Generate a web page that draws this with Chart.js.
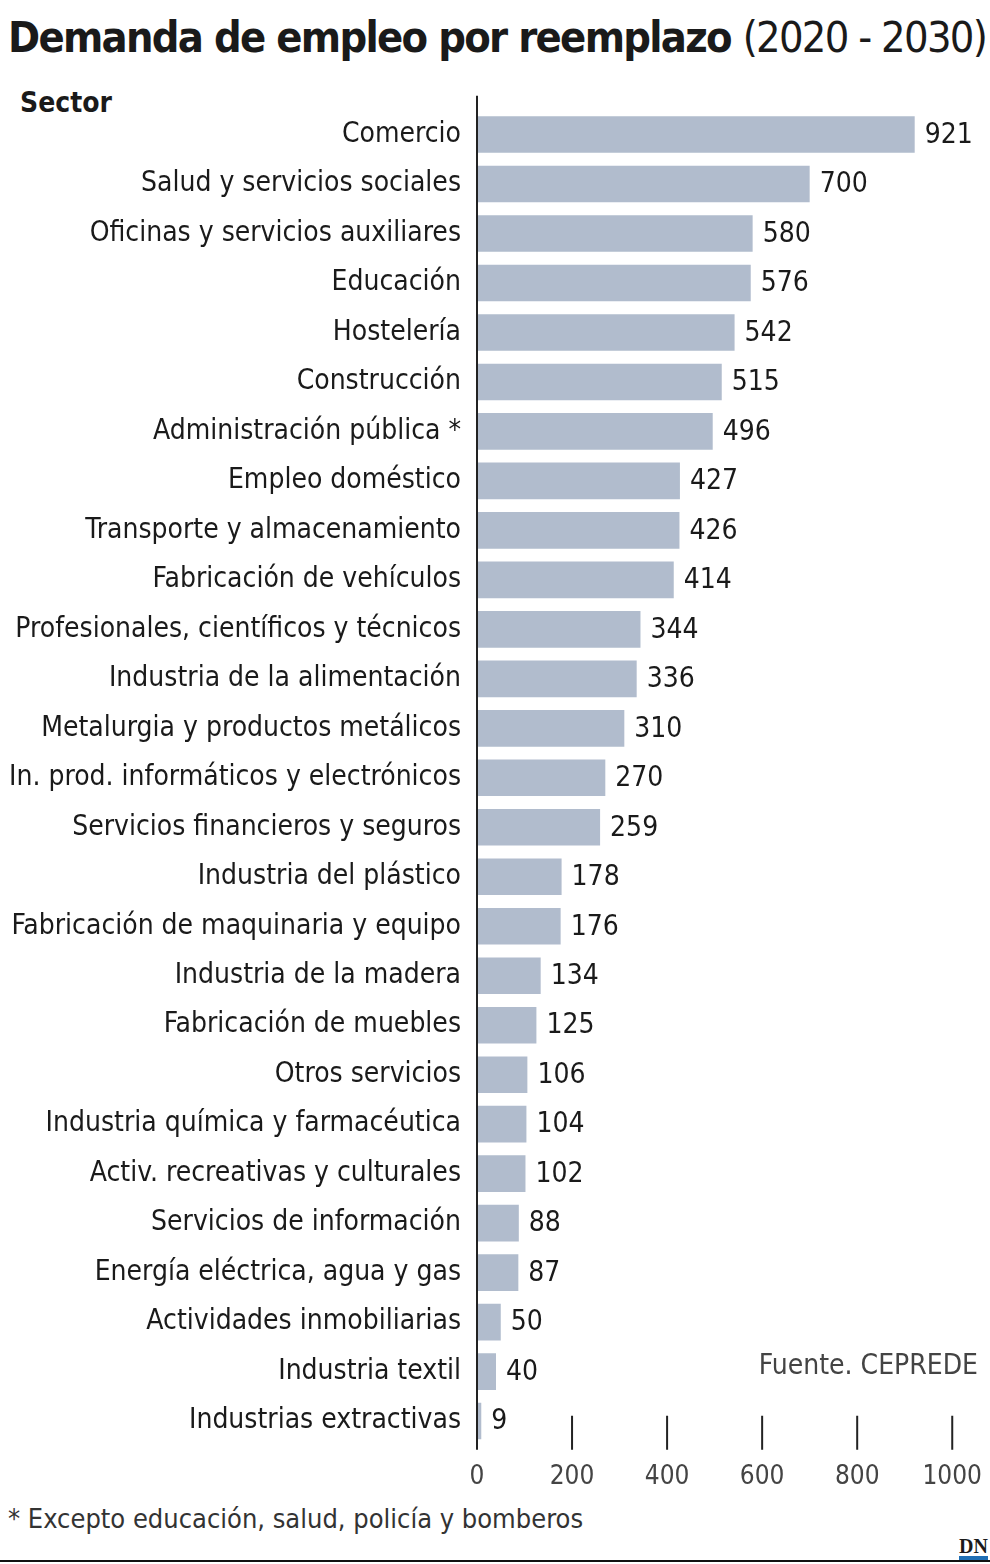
<!DOCTYPE html>
<html><head><meta charset="utf-8">
<script src="https://cdn.jsdelivr.net/npm/chart.js@4/dist/chart.umd.min.js"></script>
<style>
body{margin:0;background:#fff;width:990px;height:1564px;position:relative;overflow:hidden;font-family:"DejaVu Sans Condensed","Liberation Sans Narrow",sans-serif;color:#1a1a1a}
#title{position:absolute;left:8px;top:12px;font-size:43px;font-weight:bold;letter-spacing:-1.7px;white-space:nowrap}
#title span{font-weight:normal}
#sector{position:absolute;left:20px;top:86px;font-size:28px;font-weight:bold}
#fuente{position:absolute;right:12px;top:1348px;font-size:28px;color:#444}
#note{position:absolute;left:8px;top:1503px;font-size:27px;color:#333}
#dn{position:absolute;right:2px;top:1536px;font-family:"Liberation Serif",serif;font-weight:bold;font-size:20px;border-bottom:4px solid #1f6fb5;line-height:20px}
#line{position:absolute;left:0;right:0;top:1560px;height:2px;background:#111}
#wrap{position:absolute;left:0;top:85px;width:990px;height:1416px}
</style></head><body>
<div id="title">Demanda de empleo por reemplazo <span>(2020 - 2030)</span></div>
<div id="sector">Sector</div>
<div id="wrap"><canvas id="c"></canvas></div>
<div id="fuente">Fuente. CEPREDE</div>
<div id="note">* Excepto educación, salud, policía y bomberos</div>
<div id="dn">DN</div>
<div id="line"></div>
<script>
const sectors=["Comercio","Salud y servicios sociales","Oficinas y servicios auxiliares","Educación","Hostelería","Construcción","Administración pública *","Empleo doméstico","Transporte y almacenamiento","Fabricación de vehículos","Profesionales, científicos y técnicos","Industria de la alimentación","Metalurgia y productos metálicos","In. prod. informáticos y electrónicos","Servicios financieros y seguros","Industria del plástico","Fabricación de maquinaria y equipo","Industria de la madera","Fabricación de muebles","Otros servicios","Industria química y farmacéutica","Activ. recreativas y culturales","Servicios de información","Energía eléctrica, agua y gas","Actividades inmobiliarias","Industria textil","Industrias extractivas"];
const values=[921,700,580,576,542,515,496,427,426,414,344,336,310,270,259,178,176,134,125,106,104,102,88,87,50,40,9];
const ticks=[0,200,400,600,800,1000];
const FONT='"DejaVu Sans Condensed","Liberation Sans Narrow",sans-serif';
const deco={id:'deco',afterDatasetsDraw(ch){
 const ctx=ch.ctx,x=ch.scales.x,y=ch.scales.y,meta=ch.getDatasetMeta(0);
 ctx.save();ctx.fillStyle='#1a1a1a';ctx.font='28px '+FONT;ctx.textBaseline='middle';
 meta.data.forEach((b,i)=>{ctx.fillText(values[i],b.x+10,b.y+1);});
 ctx.strokeStyle='#222';ctx.lineWidth=2;
 ctx.beginPath();ctx.moveTo(x.left,ch.chartArea.top-14);ctx.lineTo(x.left,ch.chartArea.bottom+4);
 ticks.slice(1).forEach(t=>{const px=x.getPixelForValue(t);ctx.moveTo(px,ch.chartArea.bottom-30);ctx.lineTo(px,ch.chartArea.bottom+4);});
 ctx.stroke();ctx.restore();}};
new Chart(document.getElementById('c'),{type:'bar',
 data:{labels:sectors,datasets:[{data:values,backgroundColor:'#b1bccd',barPercentage:0.74,categoryPercentage:1}]},
 options:{indexAxis:'y',responsive:true,maintainAspectRatio:false,animation:false,
  layout:{padding:{top:17,right:19,bottom:0,left:0}},
  plugins:{legend:{display:false},tooltip:{enabled:false}},
  scales:{
   y:{grid:{display:false},border:{display:false},afterFit(s){s.width=477;},
      ticks:{color:'#1a1a1a',font:{family:FONT,size:28},padding:8,autoSkip:false}},
   x:{min:0,max:1000,afterBuildTicks(s){s.ticks=ticks.map(v=>({value:v}));},
      grid:{display:false},border:{display:false},
      ticks:{color:'#444',font:{family:FONT,size:26},padding:8,maxRotation:0,callback:v=>String(v)}}
  }},plugins:[deco]});
</script></body></html>
